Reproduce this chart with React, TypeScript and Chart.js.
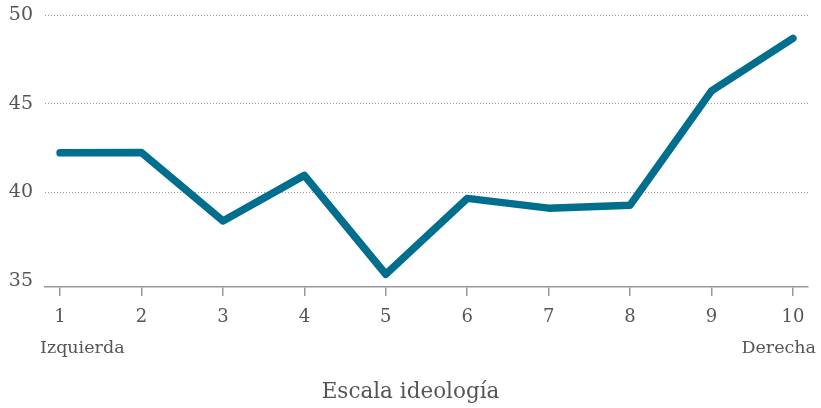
import React, { useEffect, useRef } from "react";
import { Chart, registerables } from "chart.js";

Chart.register(...registerables);

const xValues: number[] = [1, 2, 3, 4, 5, 6, 7, 8, 9, 10];
const seriesValues: number[] = [42.22, 42.24, 38.38, 40.95, 35.37, 39.65, 39.1, 39.27, 45.72, 48.68];
const yTickValues: number[] = [35, 40, 45, 50];
const leftLabel = "Izquierda";
const rightLabel = "Derecha";
const axisTitle = "Escala ideología";

const FONT = '"DejaVu Serif", serif';
const TEXT = "#555555";
const LINE = "#006f8e";

const textPlugin = {
  id: "extraTexts",
  afterDraw(chart: any) {
    const { ctx, chartArea } = chart;
    ctx.save();
    ctx.fillStyle = TEXT;
    ctx.textBaseline = "middle";
    ctx.font = `17.5px ${FONT}`;
    ctx.textAlign = "left";
    ctx.fillText(leftLabel, chartArea.left - 5, 348);
    ctx.textAlign = "right";
    ctx.fillText(rightLabel, chartArea.right + 8, 348);
    ctx.font = `21.5px ${FONT}`;
    ctx.textAlign = "center";
    ctx.fillText(axisTitle, chart.width / 2, 392);
    ctx.restore();
  },
};

export default function App() {
  const ref = useRef<HTMLCanvasElement | null>(null);
  useEffect(() => {
    document.body.style.margin = "0";
    if (!ref.current) return;
    const chart = new Chart(ref.current, {
      type: "line",
      data: {
        datasets: [
          {
            data: xValues.map((x, i) => ({ x, y: seriesValues[i] })),
            borderColor: LINE,
            borderWidth: 7.5,
            pointRadius: 0,
            tension: 0,
            borderCapStyle: "round",
            borderJoinStyle: "round",
            fill: false,
          },
        ],
      },
      options: {
        animation: false,
        responsive: false,
        layout: { padding: { top: 15, right: 13, left: 0, bottom: 0 } },
        plugins: { legend: { display: false }, tooltip: { enabled: false } },
        scales: {
          x: {
            type: "linear",
            min: 0.815,
            max: 10.185,
            afterBuildTicks: (scale: any) => {
              scale.ticks = xValues.map((v) => ({ value: v }));
            },
            afterFit: (scale: any) => {
              scale.height = 121;
              scale.paddingLeft = 0;
              scale.paddingRight = 0;
            },
            grid: { drawOnChartArea: false, drawTicks: true, tickLength: 9, color: "#999999", lineWidth: 1.5 },
            border: { display: true, color: "#999999", width: 1.5 },
            ticks: {
              autoSkip: false,
              maxRotation: 0,
              padding: 11,
              color: TEXT,
              font: { family: FONT, size: 18 },
              callback: (v: any) => String(v),
            },
          },
          y: {
            type: "linear",
            min: 34.65,
            max: 50,
            afterBuildTicks: (scale: any) => {
              scale.ticks = yTickValues.map((v) => ({ value: v }));
            },
            afterFit: (scale: any) => {
              scale.width = 45;
              scale.paddingTop = 0;
              scale.paddingBottom = 0;
            },
            grid: {
              drawTicks: false,
              color: (c: any) => (c.tick && c.tick.value === yTickValues[0] ? "rgba(0,0,0,0)" : "#9a9a9a"),
              lineWidth: 1,
            },
            border: { display: false, dash: [1, 2] },
            ticks: {
              padding: 12,
              color: TEXT,
              font: { family: FONT, size: 19 },
              callback: (v: any) => String(v),
            },
          },
        },
      },
      plugins: [textPlugin],
    } as any);
    return () => chart.destroy();
  }, []);
  return (
    <div style={{ width: 821, height: 408 }}>
      <canvas ref={ref} width={821} height={408} style={{ display: "block" }} />
    </div>
  );
}
